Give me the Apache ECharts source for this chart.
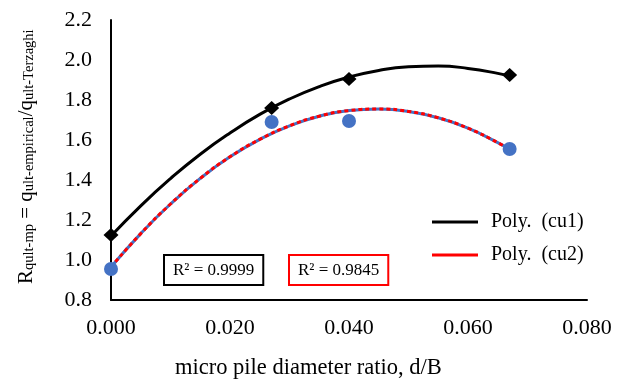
<!DOCTYPE html>
<html>
<head>
<meta charset="utf-8">
<script src="https://cdn.jsdelivr.net/npm/echarts@6/dist/echarts.min.js"></script>
<style>
  html, body { margin: 0; padding: 0; background: #fff; }
  #chart { width: 622px; height: 382px; }
</style>
</head>
<body>
<div id="chart"></div>
<script>
// measured points
const ratioPts = [0, 0.027, 0.040, 0.067];
const cu1Vals = [1.125, 1.76, 1.905, 1.925];
const cu2Vals = [0.955, 1.69, 1.695, 1.555];

// trendline curves
const trendX = [0, 0.005, 0.010, 0.015, 0.020, 0.025, 0.030, 0.035, 0.040, 0.045, 0.050, 0.055, 0.060, 0.065, 0.067];
const trend1 = [1.12, 1.271, 1.407, 1.529, 1.635, 1.728, 1.805, 1.867, 1.915, 1.948, 1.966, 1.970, 1.958, 1.933, 1.918];
const trend2 = [0.965, 1.132, 1.280, 1.408, 1.516, 1.603, 1.671, 1.719, 1.747, 1.755, 1.743, 1.711, 1.659, 1.587, 1.553];

const r2Labels = ["R² = 0.9999", "R² = 0.9845"];

const pairs = (xs, ys) => xs.map((x, i) => [x, ys[i]]);
const font = "Liberation Serif";

const chartDom = document.getElementById("chart");
const myChart = echarts.init(chartDom);
const option = {
  animation: false,
  grid: { left: 111, right: 35, top: 20, bottom: 82 },
  xAxis: {
    type: "value",
    min: 0, max: 0.08, interval: 0.02,
    axisLine: { lineStyle: { color: "#000", width: 2 } },
    axisTick: { show: false },
    splitLine: { show: false },
    axisLabel: {
      color: "#000", fontFamily: font, fontSize: 22, margin: 17,
      formatter: (v) => v.toFixed(3),
    },
  },
  yAxis: {
    type: "value",
    min: 0.8, max: 2.2, interval: 0.2,
    axisLine: { show: true, lineStyle: { color: "#000", width: 2 } },
    axisTick: { show: false },
    splitLine: { show: false },
    axisLabel: {
      color: "#000", fontFamily: font, fontSize: 22, margin: 19,
      formatter: (v) => v.toFixed(1),
    },
  },
  legend: {
    orient: "vertical",
    left: 427, top: 207,
    itemWidth: 46, itemHeight: 3, itemGap: 13,
    icon: "rect",
    data: ["Poly.  (cu1)", "Poly.  (cu2)"],
    textStyle: { color: "#000", fontFamily: font, fontSize: 20, padding: [0, 0, 0, 8] },
  },
  series: [
    {
      name: "Poly.  (cu1)", type: "line", smooth: true, showSymbol: false,
      data: pairs(trendX, trend1),
      lineStyle: { color: "#000", width: 3 }, itemStyle: { color: "#000" }, z: 2,
    },
    {
      name: "cu2 base", type: "line", smooth: true, showSymbol: false,
      data: pairs(trendX, trend2),
      lineStyle: { color: "#4472C4", width: 3 }, z: 2,
    },
    {
      name: "Poly.  (cu2)", type: "line", smooth: true, showSymbol: false,
      data: pairs(trendX, trend2),
      lineStyle: { color: "#FF0000", width: 3, type: [4, 3] }, itemStyle: { color: "#FF0000" }, z: 3,
    },
    {
      name: "cu1", type: "scatter", symbol: "diamond", symbolSize: [15, 14],
      data: pairs(ratioPts, cu1Vals),
      itemStyle: { color: "#000", opacity: 1 }, z: 4,
    },
    {
      name: "cu2", type: "scatter", symbol: "circle", symbolSize: 14,
      data: pairs(ratioPts, cu2Vals),
      itemStyle: { color: "#4472C4", opacity: 1 }, z: 4,
    },
  ],
  graphic: [
    {
      type: "text", left: 175, top: 357,
      style: { text: "micro pile diameter ratio, d/B", font: "22.5px " + font, fill: "#000" },
    },
    {
      type: "text", x: 11, y: 284, rotation: Math.PI / 2,
      style: {
        text: "{b|R}{s|qult-mp}{b| = q}{s|ult-empirical}{b|/q}{s|ult-Terzaghi}",
        fill: "#000",
        rich: {
          b: { fontFamily: font, fontSize: 21, color: "#000", verticalAlign: "bottom", lineHeight: 26 },
          s: { fontFamily: font, fontSize: 14.5, color: "#000", verticalAlign: "bottom", lineHeight: 26, padding: [9, 0, 0, 0] },
        },
      },
    },
    {
      type: "text", left: 163, top: 254,
      style: {
        text: r2Labels[0], font: "17px " + font, fill: "#000",
        borderColor: "#000", borderWidth: 2, padding: [6, 8, 5, 8], backgroundColor: "#fff",
      },
    },
    {
      type: "text", left: 288, top: 254,
      style: {
        text: r2Labels[1], font: "17px " + font, fill: "#000",
        borderColor: "#FF0000", borderWidth: 2, padding: [6, 8, 5, 8], backgroundColor: "#fff",
      },
    },
  ],
};
myChart.setOption(option);
window.addEventListener("resize", () => myChart.resize());
</script>
</body>
</html>
